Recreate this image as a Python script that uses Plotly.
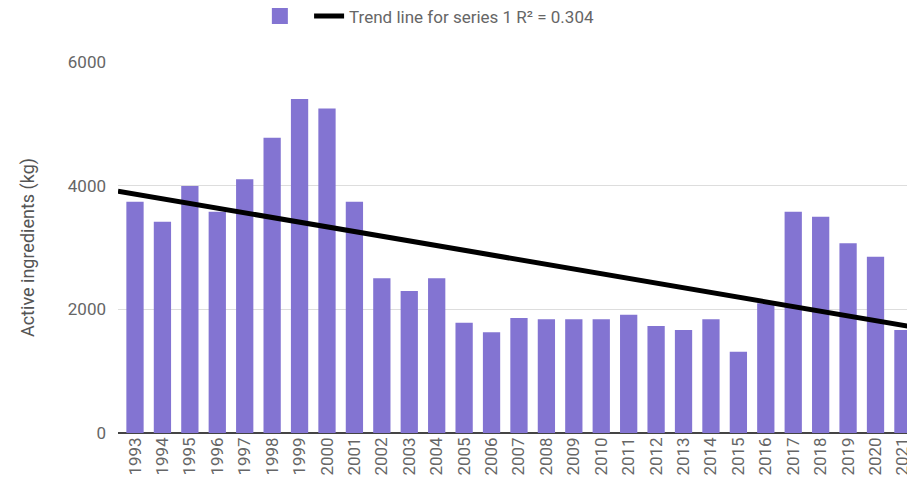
import numpy as np
import plotly.graph_objects as go

years = list(range(1993, 2022))
values = [3740, 3417, 3994, 3578, 4102, 4775, 5401, 5250, 3740, 2501,
          2296, 2501, 1784, 1628, 1860, 1838, 1838, 1838, 1913, 1730,
          1665, 1838, 1315, 2097, 3579, 3498, 3067, 2851, 1665]
y_ticks = [0, 2000, 4000, 6000]
trend_label = "Trend line for series 1 R² = 0.304"
y_title = "Active ingredients (kg)"
bar_color = "#8374d2"

x_range = [1992.38, 2021.44]

slope, intercept = np.polyfit(years, values, 1)
tx = np.array(x_range)
ty = slope * tx + intercept

fig = go.Figure()
fig.add_trace(go.Bar(x=years, y=values, name=" ", marker_color=bar_color,
                     marker_line_width=0, width=0.63, showlegend=False))
# legend proxy for the bar series (larger square symbol)
fig.add_trace(go.Scatter(x=[None], y=[None], mode="markers", name=" ",
                         marker=dict(symbol="square", size=16, color=bar_color)))
fig.add_trace(go.Scatter(x=tx, y=ty, mode="lines", name=trend_label,
                         line=dict(color="#000000", width=5)))

fig.update_layout(
    width=907, height=481,
    margin=dict(l=110, r=0, t=54, b=56, autoexpand=False),
    plot_bgcolor="white", paper_bgcolor="white",
    font=dict(family="Roboto", color="#666666", size=17),
    showlegend=True,
    legend=dict(orientation="h", x=0.178, xanchor="left", y=1.074, yanchor="bottom",
                font=dict(size=17, color="#666666"), bgcolor="rgba(0,0,0,0)"),
)
fig.update_xaxes(range=x_range, tickmode="array", tickvals=years,
                 ticktext=[str(y) for y in years], tickangle=-90,
                 showgrid=False, showline=False, zeroline=False, automargin=False,
                 tickfont=dict(size=17, color="#666666"), ticks="")
fig.update_yaxes(range=[0, 6000], tickvals=y_ticks, showgrid=True,
                 gridcolor="#dddddd", gridwidth=1, zeroline=True,
                 zerolinecolor="#444444", zerolinewidth=1.5, automargin=False,
                 tickfont=dict(size=17, color="#666666"), ticks="", ticklabelstandoff=11,
                 title=dict(text=y_title, font=dict(size=18, color="#555555"), standoff=28))

fig.write_html("out.html")
